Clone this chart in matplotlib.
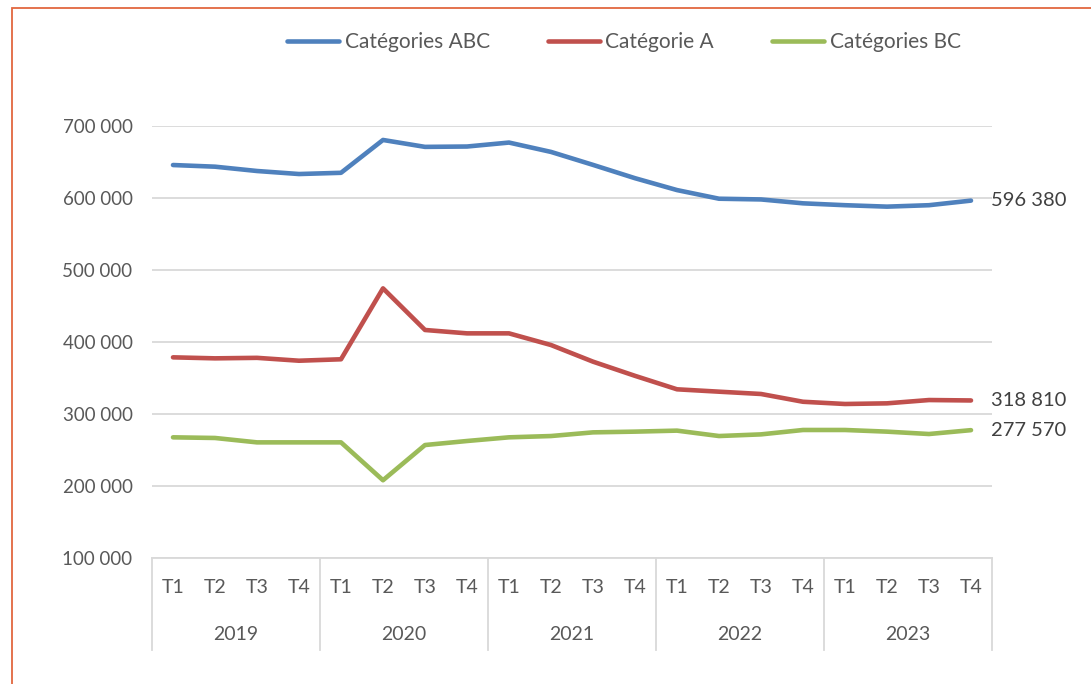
import matplotlib.pyplot as plt
import matplotlib.patches as patches
from matplotlib.transforms import blended_transform_factory

# data
years = ["2019", "2020", "2021", "2022", "2023"]
quarters = ["T1", "T2", "T3", "T4"]
abc = [645800, 643500, 637500, 633300, 635000, 680600, 671000, 671500,
       677000, 664000, 646000, 627500, 611000, 599000, 598000, 592600,
       590000, 588000, 590000, 596380]
cat_a = [378700, 377300, 378000, 374000, 376000, 474500, 416700, 412000,
         412000, 395800, 372700, 353000, 334300, 331000, 327800, 317000,
         313900, 314800, 319400, 318810]
cat_bc = [267600, 266700, 260600, 260600, 260600, 208000, 256900, 262500,
          267600, 269400, 274500, 275500, 276900, 269400, 271700, 277800,
          277800, 275500, 272200, 277570]
series_names = ["Catégories ABC", "Catégorie A", "Catégories BC"]
colors = ["#4F81BD", "#C0504D", "#9BBB59"]

plt.rcParams['font.family'] = ['Lato', 'DejaVu Sans']
txt_color = "#595959"
grid_color = "#D9D9D9"

fig = plt.figure(figsize=(10.91, 6.84), dpi=100)
ax = fig.add_axes([152/1091, 1-558/684, 840/1091, 432/684])

x = list(range(len(abc)))
lines = []
for vals, name, c in zip([abc, cat_a, cat_bc], series_names, colors):
    ln, = ax.plot(x, vals, color=c, lw=3.3, solid_capstyle='round',
                  solid_joinstyle='round', label=name)
    lines.append(ln)
    ax.annotate(f"{vals[-1]:,}".replace(",", " "), (x[-1], vals[-1]),
                xytext=(20, 0), textcoords='offset pixels', va='center',
                ha='left', fontsize=14.5, color="#404040", annotation_clip=False)

ax.set_xlim(-0.5, len(abc) - 0.5)
ax.set_ylim(100000, 700000)
ax.set_yticks(range(100000, 700001, 100000))
ax.set_yticklabels([f"{v:,}".replace(",", " ") for v in range(100000, 700001, 100000)])
ax.tick_params(axis='y', length=0, pad=14, labelsize=13.5, labelcolor=txt_color)
ax.set_xticks([])
ax.grid(axis='y', color=grid_color, lw=1.3)
ax.set_axisbelow(True)
for s in ['left', 'right', 'top']:
    ax.spines[s].set_visible(False)
ax.spines['bottom'].set_color(grid_color)
ax.spines['bottom'].set_linewidth(1.3)

# two-level category axis
trans = blended_transform_factory(ax.transData, ax.transAxes)
for i in range(len(abc)):
    ax.text(i, -0.069, quarters[i % 4], transform=trans, ha='center', va='center',
            fontsize=14, color=txt_color)
for j, yr in enumerate(years):
    ax.text(j*4 + 1.5, -0.176, yr, transform=trans, ha='center', va='center',
            fontsize=14, color=txt_color)
for j in range(len(years) + 1):
    ax.plot([j*4 - 0.5, j*4 - 0.5], [0, -0.213], transform=trans, color=grid_color,
            lw=1.3, clip_on=False)

fig.legend(handles=lines, loc='center', bbox_to_anchor=(624/1091, 1-42/684),
           ncol=3, frameon=False, fontsize=15, handlelength=2.5, columnspacing=2.8,
           handletextpad=0.25, labelcolor=txt_color)

# outer frame
fig.patches.append(patches.Rectangle((12/1091, -0.1), 1.2, 1 - 8/684 + 0.1,
                                     transform=fig.transFigure, fill=False,
                                     edgecolor="#E2673F", lw=1.3))

fig.savefig("out.png", dpi=100)
